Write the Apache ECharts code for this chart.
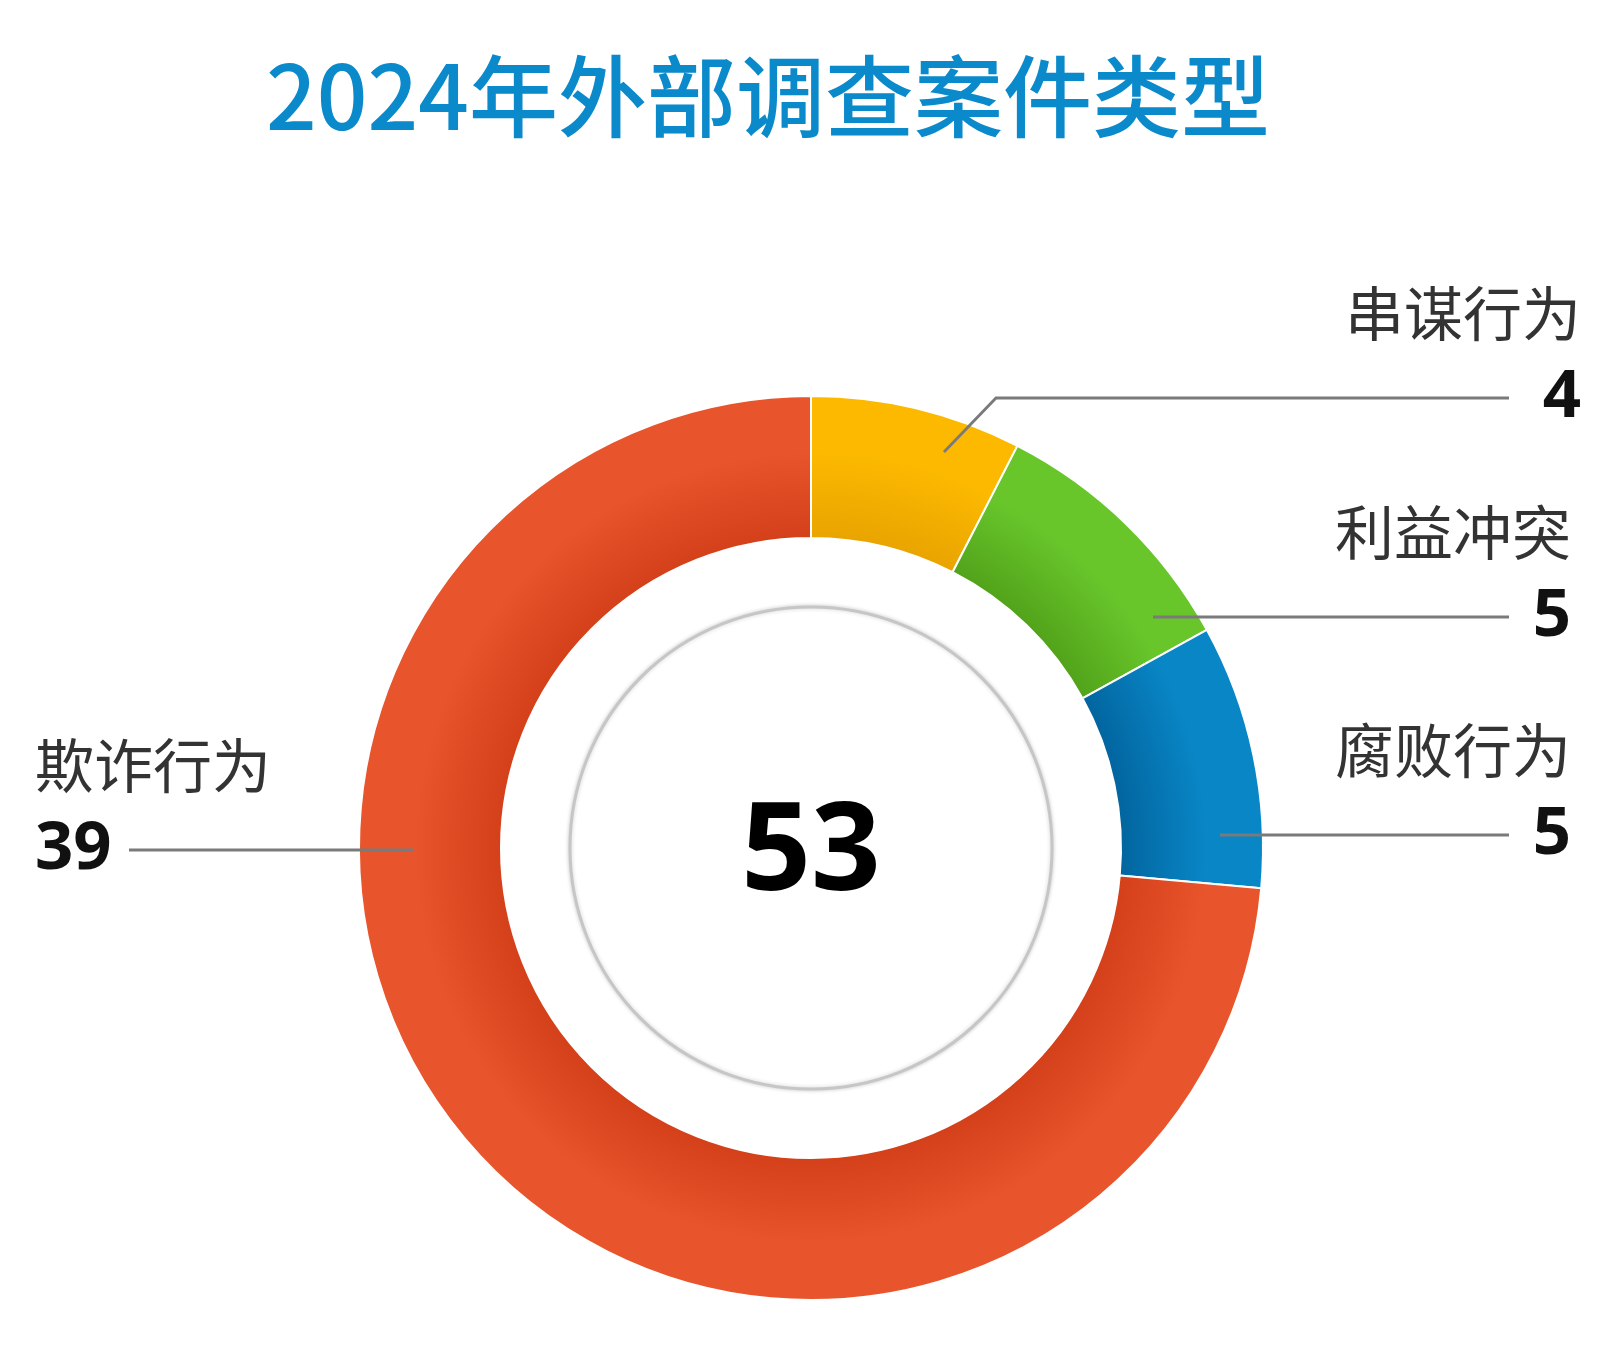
<!DOCTYPE html>
<html>
<head>
<meta charset="utf-8">
<script src="https://cdn.jsdelivr.net/npm/echarts@6/dist/echarts.min.js"></script>
<style>
html,body{margin:0;padding:0;background:#fff;}
#chart{width:1621px;height:1352px;}
</style>
</head>
<body>
<div id="chart"></div>
<script>
// ---- data ----
const titleText = '2024年外部调查案件类型';
const categories = ['串谋行为', '利益冲突', '腐败行为', '欺诈行为'];
const values = [4, 5, 5, 39];

// ---- styles / layout (not data) ----
const palette = [
  { dark: '#e9a400', light: '#fcb900' },
  { dark: '#52a31a', light: '#68c62b' },
  { dark: '#02659f', light: '#0986c6' },
  { dark: '#d3401a', light: '#e8542b' }
];
const CX = 811, CY = 848, R0 = 310, R1 = 452;
const labelPlacement = [
  { x: 1581, lineY: 398, align: 'right', pts: [[944, 452], [996, 398], [1509, 398]] },
  { x: 1571, lineY: 617, align: 'right', pts: [[1153, 617], [1330, 617], [1509, 617]] },
  { x: 1571, lineY: 835, align: 'right', pts: [[1220, 835], [1360, 835], [1509, 835]] },
  { x: 35,   lineY: 850, align: 'left',  pts: [[414, 850], [270, 850], [129, 850]] }
];
const LH = 84;

const total = values.reduce((a, b) => a + b, 0);

function grad(p) {
  const f0 = R0 / R1;
  return {
    type: 'radial', x: CX, y: CY, r: R1, global: true,
    colorStops: [
      { offset: 0, color: p.dark },
      { offset: f0, color: p.dark },
      { offset: f0 + (1 - f0) * 0.6, color: p.light },
      { offset: 1, color: p.light }
    ]
  };
}

const chart = echarts.init(document.getElementById('chart'));
chart.setOption({
  backgroundColor: '#ffffff',
  animation: false,
  title: {
    text: titleText,
    left: 266,
    top: 52,
    padding: 0,
    textStyle: {
      fontFamily: 'Noto Sans CJK SC',
      fontSize: 89,
      fontWeight: 500,
      color: '#0a8acb'
    }
  },
  graphic: [
    {
      type: 'circle',
      shape: { cx: CX, cy: CY, r: 241 },
      style: { fill: '#ffffff', stroke: '#c6c6c6', lineWidth: 3, shadowBlur: 4, shadowColor: 'rgba(0,0,0,0.18)' },
      z: 0
    },
    {
      type: 'text',
      x: CX, y: CY + 7,
      style: {
        text: String(total),
        fontFamily: 'Open Sans',
        fontWeight: 'bold',
        fontSize: 122,
        fill: '#000',
        align: 'center',
        verticalAlign: 'middle'
      },
      z: 10
    }
  ],
  series: [
    {
      type: 'pie',
      z: 2,
      center: [CX, CY],
      radius: [R0, R1],
      startAngle: 90,
      clockwise: true,
      silent: true,
      itemStyle: { borderColor: '#ffffff', borderWidth: 2 },
      label: { show: false },
      labelLine: { show: false },
      data: categories.map((c, i) => ({
        name: c,
        value: values[i],
        itemStyle: { color: grad(palette[i]) }
      }))
    },
    {
      // transparent overlay carrying labels + leader lines above the ring
      type: 'pie',
      z: 5,
      center: [CX, CY],
      radius: [R0, R1],
      startAngle: 90,
      clockwise: true,
      silent: true,
      avoidLabelOverlap: false,
      itemStyle: { color: 'rgba(0,0,0,0)', borderWidth: 0 },
      label: {
        show: true,
        position: 'outside',
        formatter: '{n|{b}}\n{v|{c}}',
        rich: {
          n: { fontFamily: 'Noto Sans CJK SC', fontSize: 59, color: '#333333', lineHeight: LH },
          v: { fontFamily: 'Open Sans', fontWeight: 'bold', fontSize: 67, color: '#111111', lineHeight: LH }
        }
      },
      labelLine: {
        show: true,
        lineStyle: { color: '#7a7a7a', width: 2.8 }
      },
      labelLayout: function (params) {
        const p = labelPlacement[params.dataIndex];
        return {
          x: p.x,
          y: p.lineY - LH / 2,
          align: p.align,
          verticalAlign: 'middle',
          labelLinePoints: p.pts
        };
      },
      data: categories.map((c, i) => ({ name: c, value: values[i] }))
    }
  ]
});
</script>
</body>
</html>
